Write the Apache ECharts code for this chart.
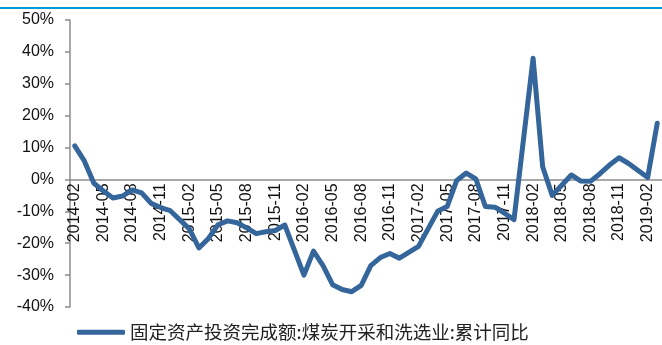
<!DOCTYPE html>
<html>
<head>
<meta charset="utf-8">
<script src="https://cdn.jsdelivr.net/npm/echarts@6/dist/echarts.min.js"></script>
<style>
  html, body { margin: 0; padding: 0; background: #fff; }
  #chart { width: 662px; height: 345px; }
</style>
</head>
<body>
<div id="chart"></div>
<script>
  // monthly categories, 2014-02 .. 2019-03 (January has no release, kept empty)
  const months = []
  for (let y = 2014; y <= 2019; y++) {
    for (let m = 1; m <= 12; m++) {
      if (y === 2014 && m < 2) continue
      if (y === 2019 && m > 3) break
      months.push(y + '-' + (m < 10 ? '0' + m : m))
    }
  }

  const seriesName = '固定资产投资完成额:煤炭开采和洗选业:累计同比'

  // cumulative yoy, %
  const yoy2014 = [10.5, 5.8, -1.2, -3.6, -5.8, -5.2, -3.3, -4.2, -7.5, -8.8, -9.8]
  const yoy2015 = [null, -15.5, -21.5, -18.5, -14.2, -13.0, -13.6, -15.2, -17.0, -16.4, -16.0, -14.3]
  const yoy2016 = [null, -30.0, -22.5, -27.0, -33.0, -34.5, -35.2, -33.2, -27.0, -24.5, -23.2, -24.7]
  const yoy2017 = [null, -21.0, -15.5, -10.0, -8.5, -0.3, 2.0, 0.2, -8.5, -8.7, -10.6, -12.6]
  const yoy2018 = [null, 38.0, 4.0, -5.0, -1.8, 1.4, -0.5, -0.6, 1.8, 4.5, 6.8, 5.0]
  const yoy2019 = [null, 0.6, 17.6]

  const yoy = [].concat(yoy2014, yoy2015, yoy2016, yoy2017, yoy2018, yoy2019)

  const yMin = -40
  const yMax = 50
  const gridTop = 20
  const gridBottom = 38

  const axisColor = '#8c8c8c'
  const lineColor = '#34659b'

  // the category axis sits on the 0% line, labels included
  const plotH = 345 - gridTop - gridBottom
  const zeroOffset = -plotH * (0 - yMin) / (yMax - yMin)

  const chart = echarts.init(document.getElementById('chart'))
  chart.setOption({
    animation: false,
    textStyle: { fontFamily: 'Liberation Sans, Arial, sans-serif' },
    grid: { left: 70, right: 0, top: gridTop, bottom: gridBottom, outerBoundsMode: 'none', containLabel: false },
    graphic: [
      { type: 'rect', left: 0, top: 7, shape: { width: 662, height: 2 }, style: { fill: '#009bdc' } }
    ],
    legend: {
      left: 72,
      top: 318,
      icon: 'roundRect',
      itemWidth: 48,
      itemHeight: 5,
      itemGap: 10,
      textStyle: { fontFamily: 'Noto Sans CJK SC', fontSize: 18.5, color: '#222' },
      data: [seriesName]
    },
    xAxis: {
      type: 'category',
      data: months,
      boundaryGap: true,
      offset: zeroOffset,
      axisLine: { onZero: false, lineStyle: { color: axisColor, width: 1.5 } },
      axisTick: { interval: 2, length: 5, lineStyle: { color: axisColor, width: 1.5 } },
      axisLabel: { interval: 2, rotate: 90, margin: 4, fontSize: 16, color: '#111' }
    },
    yAxis: {
      type: 'value',
      min: yMin,
      max: yMax,
      interval: 10,
      splitLine: { show: false },
      axisLine: { show: true, lineStyle: { color: axisColor, width: 1.5 } },
      axisTick: { show: true, length: 5, lineStyle: { color: axisColor, width: 1.5 } },
      axisLabel: { formatter: '{value}%', fontSize: 16, margin: 16, color: '#111' }
    },
    series: [
      {
        name: seriesName,
        type: 'line',
        data: yoy,
        connectNulls: true,
        symbol: 'none',
        itemStyle: { color: lineColor },
        lineStyle: { color: lineColor, width: 5, cap: 'round', join: 'round' }
      }
    ]
  })
</script>
</body>
</html>
